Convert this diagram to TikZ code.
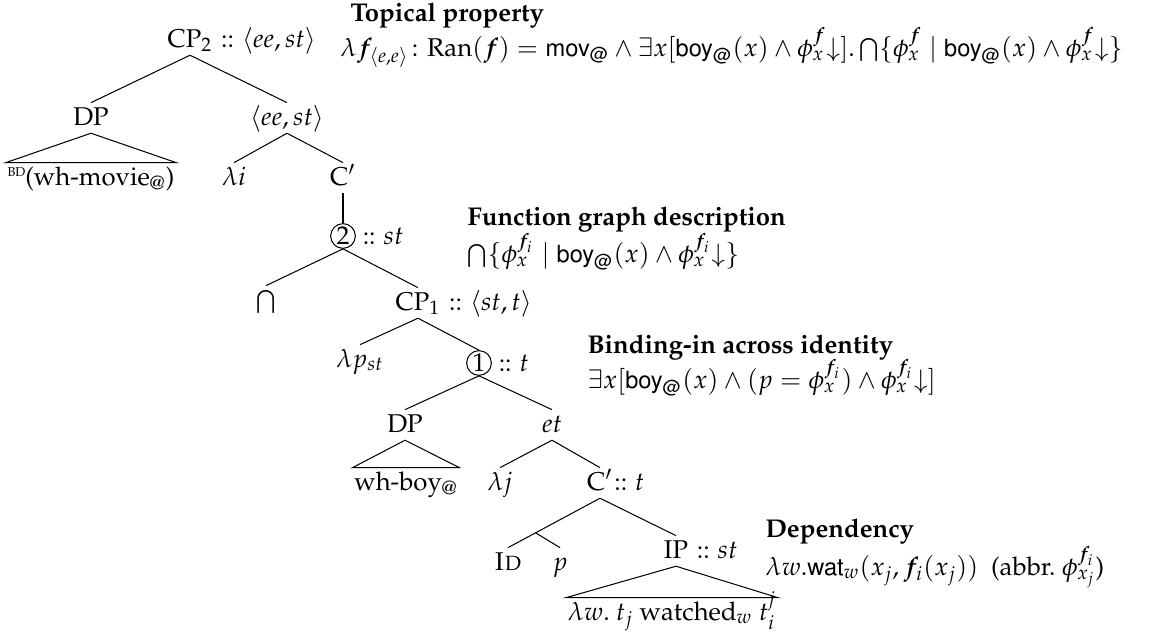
\documentclass[tikz,border=0pt]{standalone}
\usepackage[T1]{fontenc}
\usepackage{mathpazo}
\usepackage[scaled=0.92]{helvet}
\usepackage{amsmath,bm}
\usetikzlibrary{calc}
\begin{document}
\begin{tikzpicture}[x=0.389pt,y=-0.389pt,line width=0.4pt,
  tn/.style={inner sep=0.5pt,text height=8pt,text depth=2.5pt,anchor=base},
  ext/.style={inner sep=0.5pt,anchor=base west},
  circ/.style={draw,circle,inner sep=0pt,minimum size=9.6pt},
  hd/.style={anchor=base west,inner sep=0pt,font=\bfseries},
  fm/.style={anchor=base west,inner sep=0pt}]
\useasboundingbox (0,0) rectangle (1152,642);
% tree nodes
\node[tn] (cp2) at (190,47) {CP$_2$};
\node[ext] (cp2t) at ([xshift=2pt]cp2.base east) {:: $\langle ee,st\rangle$};
\node[tn] (dp1) at (91,125) {DP};
\node[tn] (wm) at (91,185) {\raisebox{3.4pt}{\fontsize{5}{5}\selectfont BD}(wh-movie$_{@}$)};
\node[tn] (ees) at (287,125) {$\langle ee,st\rangle$};
\node[tn] (li) at (234,185) {$\lambda i$};
\node[tn] (c1) at (343,185) {C$'$};
\node[circ] (n2) at (343,236) {2};
\node[ext] (n2t) at ([xshift=2pt]n2.east |- n2.base) {:: $st$};
\node[tn] (cap) at (266,308) {$\bigcap$};
\node[tn] (cp1) at (418,310) {CP$_1$};
\node[ext] (cp1t) at ([xshift=2pt]cp1.base east) {:: $\langle st,t\rangle$};
\node[tn] (lp) at (360,367) {$\lambda p_{st}$};
\node[circ] (n1) at (479,363) {1};
\node[ext] (n1t) at ([xshift=2pt]n1.east |- n1.base) {:: $t$};
\node[tn] (dp2) at (405,432) {DP};
\node[tn] (wb) at (406,490) {wh-boy$_{@}$};
\node[tn] (et) at (552,432) {$et$};
\node[tn] (lj) at (500,490) {$\lambda j$};
\node[tn] (c2) at (600,490) {C$'$};
\node[ext] (c2t) at ([xshift=-0.8pt]c2.base east) {:: $t$};
\node[tn] (id) at (508,570) {\textsc{Id}};
\node[tn] (p) at (560,570) {$p$};
\node[tn] (ip) at (676,558) {IP};
\node[ext] (ipt) at ([xshift=2pt]ip.base east) {:: $st$};
\node[tn] (wt) at (672,620) {$\lambda w.\ t_j$ watched$_w$ $t_i^j$};
% branches
\draw (cp2.south) -- (dp1.north);
\draw (cp2.south) -- (ees.north);
\draw (dp1.south) -- (wm.north west) -- (wm.north east) -- cycle;
\draw (ees.south) -- (li.north);
\draw (ees.south) -- (c1.north);
\draw (c1.south) -- (n2.north);
\draw (n2.south) -- (cap.north);
\draw (n2.south) -- (cp1.north);
\draw (cp1.south) -- (lp.north);
\draw (cp1.south) -- (n1.north);
\draw (n1.south) -- (dp2.north);
\draw (n1.south) -- (et.north);
\draw (dp2.south) -- (wb.north west) -- (wb.north east) -- cycle;
\draw (et.south) -- (lj.north);
\draw (et.south) -- (c2.north);
\draw (c2.south) -- (id.north);
\coordinate (brp) at ($(c2.south)!0.7!(id.north)$);
\draw (brp) -- (p.north);
\draw (c2.south) -- (ip.north);
\draw (ip.south) -- (wt.north west) -- (wt.north east) -- cycle;
% annotations
\node[hd] (h1) at (350,21) {Topical property};
\node[fm] (f1) at (340,56) {$\lambda \bm{f}_{\langle e,e\rangle}\colon \mathrm{Ran}(\bm{f}) = \textsf{mov}_{\textsf{@}} \wedge \exists x[\textsf{boy}_{\textsf{@}}(x) \wedge \phi^{\bm f}_x{\downarrow}].\bigcap\{\phi^{\bm f}_x \mid \textsf{boy}_{\textsf{@}}(x)\wedge \phi^{\bm f}_x{\downarrow}\}$};
\node[hd] (h2) at (467,225) {Function graph description};
\node[fm] (f2) at (467,262) {$\bigcap\{\phi^{\bm f_i}_x \mid \textsf{boy}_{\textsf{@}}(x)\wedge \phi^{\bm f_i}_x{\downarrow}\}$};
\node[hd] (h3) at (587,353) {Binding-in across identity};
\node[fm] (f3) at (587,388) {$\exists x[\textsf{boy}_{\textsf{@}}(x)\wedge (p = \phi^{\bm f_i}_x)\wedge \phi^{\bm f_i}_x{\downarrow}]$};
\node[hd] (h4) at (765,537) {Dependency};
\node[fm] (f4) at (765,575) {$\lambda w.\textsf{wat}_w(x_j, \bm f_i(x_j))$\ \ (abbr.\ $\phi^{\bm f_i}_{x_j}$)};
\end{tikzpicture}
\end{document}
